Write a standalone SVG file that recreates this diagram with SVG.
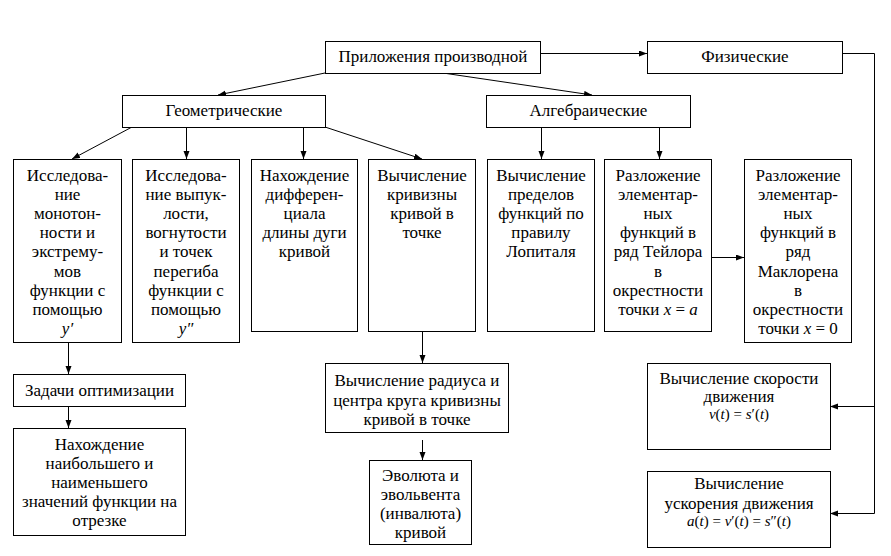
<svg xmlns="http://www.w3.org/2000/svg" width="891" height="556" viewBox="0 0 891 556">
<style>
.b{fill:#fff;stroke:#000;stroke-width:1}
.t{font-family:'Liberation Serif','Times New Roman',serif;font-size:17px;fill:#000;text-anchor:middle}
.f{font-family:'Liberation Serif','Times New Roman',serif;font-size:15px;fill:#000;text-anchor:middle}
.i{font-style:italic}
.c{fill:none;stroke:#000;stroke-width:1}
</style>
<defs>
<marker id="ah" markerUnits="userSpaceOnUse" markerWidth="9" markerHeight="7" refX="8" refY="3" orient="auto">
<path d="M0,0 L8,3 L0,6 z" fill="#000"/>
</marker>
</defs>
<rect width="891" height="556" fill="#fff"/>
<g id="connectors">
<line class="c" x1="325" y1="73" x2="218" y2="95" marker-end="url(#ah)"/>
<line class="c" x1="443" y1="73" x2="592" y2="95" marker-end="url(#ah)"/>
<line class="c" x1="540" y1="53.5" x2="647" y2="53.5" marker-end="url(#ah)"/>
<line class="c" x1="132" y1="127" x2="72" y2="159" marker-end="url(#ah)"/>
<line class="c" x1="186.5" y1="127" x2="186.5" y2="159" marker-end="url(#ah)"/>
<line class="c" x1="303.5" y1="127" x2="303.5" y2="159" marker-end="url(#ah)"/>
<line class="c" x1="325" y1="127" x2="422" y2="159" marker-end="url(#ah)"/>
<line class="c" x1="541.5" y1="127" x2="541.5" y2="159" marker-end="url(#ah)"/>
<line class="c" x1="659.5" y1="127" x2="659.5" y2="159" marker-end="url(#ah)"/>
<line class="c" x1="712" y1="257.5" x2="744" y2="257.5" marker-end="url(#ah)"/>
<line class="c" x1="68.5" y1="342" x2="68.5" y2="374" marker-end="url(#ah)"/>
<line class="c" x1="68.5" y1="406" x2="68.5" y2="428" marker-end="url(#ah)"/>
<line class="c" x1="422.5" y1="331" x2="422.5" y2="363" marker-end="url(#ah)"/>
<line class="c" x1="422.5" y1="440" x2="422.5" y2="460" marker-end="url(#ah)"/>
<polyline class="c" points="842,53.5 874.5,53.5 874.5,513.5"/>
<line class="c" x1="874.5" y1="406.5" x2="830" y2="406.5" marker-end="url(#ah)"/>
<line class="c" x1="874.5" y1="513.5" x2="830" y2="513.5" marker-end="url(#ah)"/>
</g>
<g id="root">
<rect class="b" x="325.5" y="41.5" width="215" height="32"/>
<text class="t" x="433" y="62">Приложения производной</text>
</g>
<g id="geom">
<rect class="b" x="122.5" y="95.5" width="203" height="32"/>
<text class="t" x="224" y="116">Геометрические</text>
</g>
<g id="alg">
<rect class="b" x="486.5" y="95.5" width="204" height="32"/>
<text class="t" x="588.5" y="116">Алгебраические</text>
</g>
<g id="phys">
<rect class="b" x="647.5" y="41.5" width="195" height="32"/>
<text class="t" x="745" y="62">Физические</text>
</g>
<g id="mono">
<rect class="b" x="13.5" y="159.5" width="108" height="183"/>
<text class="t" x="67.5" y="181">Исследова-</text>
<text class="t" x="67.5" y="200.1">ние</text>
<text class="t" x="67.5" y="219.2">монотон-</text>
<text class="t" x="67.5" y="238.3">ности и</text>
<text class="t" x="67.5" y="257.4">экстрему-</text>
<text class="t" x="67.5" y="276.5">мов</text>
<text class="t" x="67.5" y="295.6">функции с</text>
<text class="t" x="67.5" y="314.7">помощью</text>
<text class="t i" x="67.5" y="333.8">y′</text>
</g>
<g id="convex">
<rect class="b" x="132.5" y="159.5" width="107" height="183"/>
<text class="t" x="186" y="181">Исследова-</text>
<text class="t" x="186" y="200.1">ние выпук-</text>
<text class="t" x="186" y="219.2">лости,</text>
<text class="t" x="186" y="238.3">вогнутости</text>
<text class="t" x="186" y="257.4">и точек</text>
<text class="t" x="186" y="276.5">перегиба</text>
<text class="t" x="186" y="295.6">функции с</text>
<text class="t" x="186" y="314.7">помощью</text>
<text class="t i" x="186" y="333.8">y″</text>
</g>
<g id="arclen">
<rect class="b" x="251.5" y="159.5" width="106" height="172"/>
<text class="t" x="304.5" y="181">Нахождение</text>
<text class="t" x="304.5" y="200.1">дифферен-</text>
<text class="t" x="304.5" y="219.2">циала</text>
<text class="t" x="304.5" y="238.3">длины дуги</text>
<text class="t" x="304.5" y="257.4">кривой</text>
</g>
<g id="curv">
<rect class="b" x="368.5" y="159.5" width="107" height="172"/>
<text class="t" x="422" y="181">Вычисление</text>
<text class="t" x="422" y="200.1">кривизны</text>
<text class="t" x="422" y="219.2">кривой в</text>
<text class="t" x="422" y="238.3">точке</text>
</g>
<g id="lhopital">
<rect class="b" x="487.5" y="159.5" width="107" height="172"/>
<text class="t" x="541" y="181">Вычисление</text>
<text class="t" x="541" y="200.1">пределов</text>
<text class="t" x="541" y="219.2">функций по</text>
<text class="t" x="541" y="238.3">правилу</text>
<text class="t" x="541" y="257.4">Лопиталя</text>
</g>
<g id="taylor">
<rect class="b" x="604.5" y="159.5" width="107" height="172"/>
<text class="t" x="658" y="181">Разложение</text>
<text class="t" x="658" y="200.1">элементар-</text>
<text class="t" x="658" y="219.2">ных</text>
<text class="t" x="658" y="238.3">функций в</text>
<text class="t" x="658" y="257.4">ряд Тейлора</text>
<text class="t" x="658" y="276.5">в</text>
<text class="t" x="658" y="295.6">окрестности</text>
<text class="t" x="658" y="314.7">точки <tspan class="i">x</tspan> = <tspan class="i">a</tspan></text>
</g>
<g id="maclaurin">
<rect class="b" x="744.5" y="159.5" width="107" height="183"/>
<text class="t" x="798" y="181">Разложение</text>
<text class="t" x="798" y="200.1">элементар-</text>
<text class="t" x="798" y="219.2">ных</text>
<text class="t" x="798" y="238.3">функций в</text>
<text class="t" x="798" y="257.4">ряд</text>
<text class="t" x="798" y="276.5">Маклорена</text>
<text class="t" x="798" y="295.6">в</text>
<text class="t" x="798" y="314.7">окрестности</text>
<text class="t" x="798" y="333.8">точки <tspan class="i">x</tspan> = 0</text>
</g>
<g id="optim">
<rect class="b" x="13.5" y="374.5" width="172" height="32"/>
<text class="t" x="99.5" y="396">Задачи оптимизации</text>
</g>
<g id="maxmin">
<rect class="b" x="13.5" y="428.5" width="172" height="107"/>
<text class="t" x="99.5" y="449.5">Нахождение</text>
<text class="t" x="99.5" y="468.7">наибольшего и</text>
<text class="t" x="99.5" y="487.9">наименьшего</text>
<text class="t" x="99.5" y="507.1">значений функции на</text>
<text class="t" x="99.5" y="526.3">отрезке</text>
</g>
<g id="radius">
<rect class="b" x="325.5" y="363.5" width="183" height="69"/>
<text class="t" x="417" y="386">Вычисление радиуса и</text>
<text class="t" x="417" y="405.5">центра круга кривизны</text>
<text class="t" x="417" y="425">кривой в точке</text>
</g>
<g id="evolute">
<rect class="b" x="369.5" y="460.5" width="102" height="84"/>
<text class="t" x="420.5" y="481">Эволюта и</text>
<text class="t" x="420.5" y="500">эвольвента</text>
<text class="t" x="420.5" y="519">(инвалюта)</text>
<text class="t" x="420.5" y="537.5">кривой</text>
</g>
<g id="velocity">
<rect class="b" x="647.5" y="363.5" width="183" height="86"/>
<text class="t" x="739" y="384">Вычисление скорости</text>
<text class="t" x="739" y="401.5">движения</text>
<text class="f" x="739" y="419"><tspan class="i">v</tspan>(<tspan class="i">t</tspan>) = <tspan class="i">s</tspan>′(<tspan class="i">t</tspan>)</text>
</g>
<g id="accel">
<rect class="b" x="647.5" y="471.5" width="183" height="76"/>
<text class="t" x="739" y="489">Вычисление</text>
<text class="t" x="739" y="508.5">ускорения движения</text>
<text class="f" x="739" y="526"><tspan class="i">a</tspan>(<tspan class="i">t</tspan>) = <tspan class="i">v</tspan>′(<tspan class="i">t</tspan>) = <tspan class="i">s</tspan>″(<tspan class="i">t</tspan>)</text>
</g>
</svg>
